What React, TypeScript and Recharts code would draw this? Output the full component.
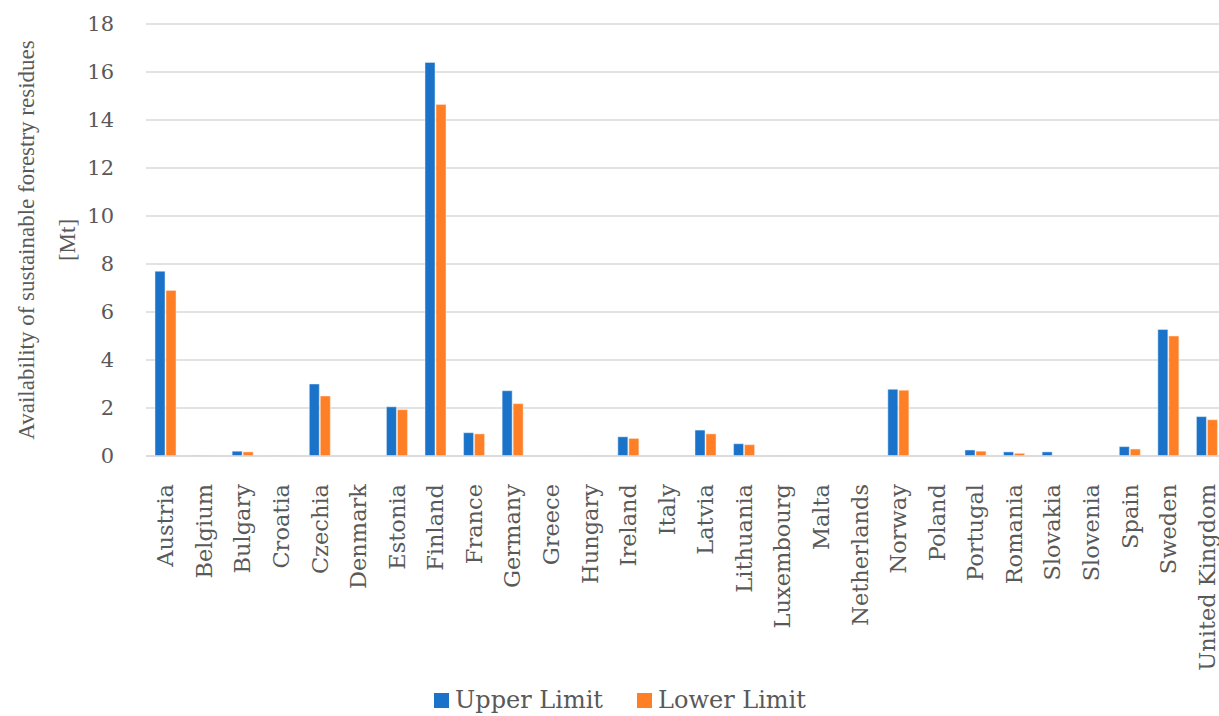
import React from 'react';
import { BarChart, Bar, XAxis, YAxis, CartesianGrid, Legend } from 'recharts';

const countries = [
  'Austria', 'Belgium', 'Bulgary', 'Croatia', 'Czechia', 'Denmark', 'Estonia', 'Finland', 'France', 'Germany',
  'Greece', 'Hungary', 'Ireland', 'Italy', 'Latvia', 'Lithuania', 'Luxembourg', 'Malta', 'Netherlands', 'Norway',
  'Poland', 'Portugal', 'Romania', 'Slovakia', 'Slovenia', 'Spain', 'Sweden', 'United Kingdom',
];
const upperLimit = [
  7.7, 0.02, 0.2, 0.01, 3.0, 0, 2.05, 16.4, 0.97, 2.72,
  0, 0.01, 0.8, 0, 1.08, 0.51, 0.01, 0, 0, 2.78,
  0, 0.25, 0.17, 0.17, 0, 0.39, 5.27, 1.64,
];
const lowerLimit = [
  6.9, 0.01, 0.17, 0.01, 2.5, 0, 1.93, 14.65, 0.92, 2.18,
  0, 0.01, 0.73, 0, 0.92, 0.47, 0.01, 0, 0, 2.74,
  0, 0.2, 0.11, 0, 0, 0.29, 5.0, 1.51,
];
const yTicks = [0, 2, 4, 6, 8, 10, 12, 14, 16, 18];

const BLUE = '#1a73c9';
const ORANGE = '#ff7f27';
const legendItems = [
  { label: 'Upper Limit', color: BLUE },
  { label: 'Lower Limit', color: ORANGE },
];

const data = countries.map((c, i) => ({ country: c, upper: upperLimit[i], lower: lowerLimit[i] }));

const FONT = '"DejaVu Serif", serif';
const TITLE_FONT = '"Liberation Serif", serif';
const TEXT = '#595959';

const CountryTick = (props: any) => {
  const { x, y, payload } = props;
  return (
    <text
      x={0}
      y={0}
      transform={`translate(${x},${y + 20}) rotate(-90)`}
      textAnchor="end"
      dominantBaseline="central"
      fill={TEXT}
      fontSize={22.5}
      fontFamily={FONT}
    >
      {payload.value}
    </text>
  );
};

const AxisTitle = (props: any) => {
  const { viewBox } = props;
  const cy = viewBox.y + viewBox.height / 2;
  return (
    <g fill={TEXT} fontSize={23} fontFamily={TITLE_FONT}>
      <text x={0} y={0} transform={`translate(26,${cy}) rotate(-90)`} textAnchor="middle" dominantBaseline="central">
        Availability of sustainable forestry residues
      </text>
      <text x={0} y={0} transform={`translate(67,${cy}) rotate(-90)`} textAnchor="middle" dominantBaseline="central">
        [Mt]
      </text>
    </g>
  );
};

const LegendBox = () => (
  <div style={{ display: 'flex', justifyContent: 'center', gap: 34, fontFamily: FONT, fontSize: 24, lineHeight: '28px', color: TEXT, paddingLeft: 14, paddingTop: 2 }}>
    {legendItems.map((it) => (
      <div key={it.label} style={{ display: 'flex', alignItems: 'center' }}>
        <span style={{ display: 'inline-block', width: 15, height: 15, background: it.color, marginRight: 6 }} />
        <span>{it.label}</span>
      </div>
    ))}
  </div>
);

export default function App() {
  return (
    <div style={{ position: 'absolute', left: 0, top: 0, width: 1219, height: 716, overflow: 'hidden', background: '#fff' }}>
      <BarChart
        width={1235}
        height={716}
        data={data}
        margin={{ top: 24, right: 9, bottom: 0, left: 0 }}
        barSize={10}
        barGap={1}
      >
        <CartesianGrid vertical={false} stroke="#d9d9d9" strokeWidth={1.5} />
        <XAxis
          dataKey="country"
          interval={0}
          height={228}
          tick={<CountryTick />}
          tickLine={false}
          axisLine={{ stroke: '#d9d9d9', strokeWidth: 1.5 }}
        />
        <YAxis
          width={146}
          domain={[0, 18]}
          ticks={yTicks}
          tickLine={false}
          axisLine={false}
          tick={{ fill: TEXT, fontSize: 21, fontFamily: FONT }}
          tickMargin={26}
          label={<AxisTitle />}
        />
        <Legend verticalAlign="bottom" height={32} content={<LegendBox />} />
        <Bar dataKey="upper" name="Upper Limit" fill={BLUE} stroke="#e6eef8" strokeWidth={0.5} isAnimationActive={false} />
        <Bar dataKey="lower" name="Lower Limit" fill={ORANGE} stroke="#fde8d8" strokeWidth={0.5} isAnimationActive={false} />
      </BarChart>
    </div>
  );
}
